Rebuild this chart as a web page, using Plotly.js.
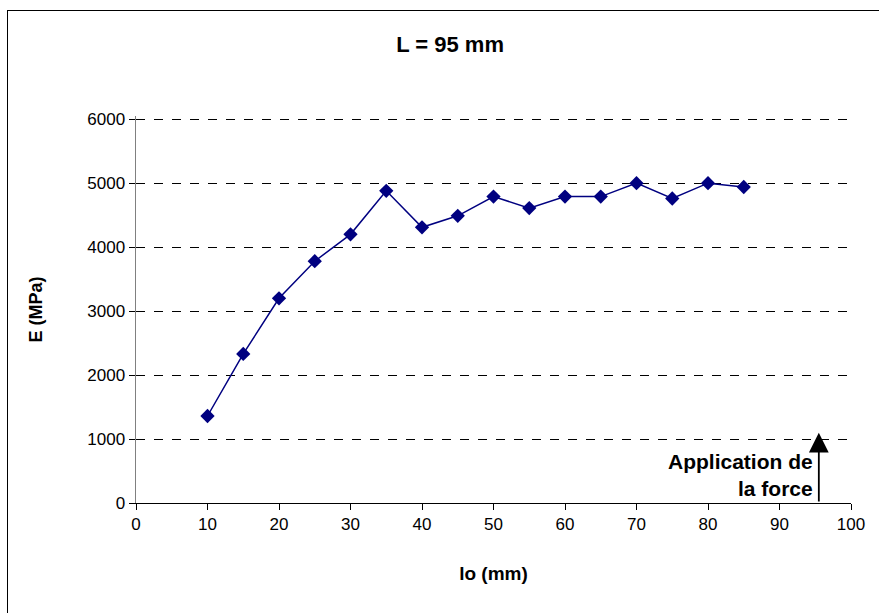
<!DOCTYPE html>
<html>
<head>
<meta charset="utf-8">
<script src="https://cdn.plot.ly/plotly-3.0.1.min.js"></script>
<style>
html,body{margin:0;padding:0;background:#fff;}
#wrap{position:relative;width:879px;height:613px;overflow:hidden;}
#chart{width:879px;height:613px;}
#frame{position:absolute;left:7px;top:10px;width:900px;height:700px;border:1.5px solid #000;pointer-events:none;}
</style>
</head>
<body>
<div id="wrap"><div id="chart"></div><div id="frame"></div></div>
<script>
var lo = [10, 15, 20, 25, 30, 35, 40, 45, 50, 55, 60, 65, 70, 75, 80, 85];
var E = [1360, 2330, 3200, 3780, 4200, 4880, 4310, 4490, 4790, 4610, 4790, 4790, 5000, 4760, 5000, 4940];
var xTicks = [0, 10, 20, 30, 40, 50, 60, 70, 80, 90, 100];
var yTicks = [0, 1000, 2000, 3000, 4000, 5000, 6000];

var trace = {
  x: lo, y: E, mode: 'lines+markers', type: 'scatter',
  line: {color: '#000080', width: 1.5},
  marker: {symbol: 'diamond', size: 11, color: '#000080'},
  hoverinfo: 'none'
};

var FONT = 'Liberation Sans, Arial, sans-serif';

var layout = {
  width: 879, height: 613,
  margin: {l: 136, r: 28, t: 116, b: 110},
  paper_bgcolor: '#fff', plot_bgcolor: '#fff',
  showlegend: false,
  font: {family: FONT, color: '#000', size: 17},
  title: {text: '<b>L = 95 mm</b>', x: 0.512, xanchor: 'center', y: 0.928, yanchor: 'middle',
          font: {size: 22, family: FONT, color: '#000'}},
  xaxis: {
    range: [0, 100], tickvals: xTicks, ticktext: xTicks.map(String),
    showgrid: false, zeroline: false, showline: true, linecolor: '#000', linewidth: 1,
    ticks: 'outside', ticklen: 6, tickcolor: '#000', tickfont: {size: 17},
    title: {text: '<b>lo (mm)</b>', font: {size: 19}, standoff: 33}
  },
  yaxis: {
    range: [0, 6050], tickvals: yTicks, ticktext: yTicks.map(String),
    showgrid: true, gridcolor: '#000', gridwidth: 1, griddash: 'dash',
    zeroline: false, showline: true, linecolor: '#808080', linewidth: 1.5,
    ticks: 'outside', ticklen: 6, tickcolor: '#000', tickfont: {size: 17},
    title: {text: '<b>E (MPa)</b>', font: {size: 18}, standoff: 40}
  },
  annotations: [
    {x: 95.5, y: 1100, ax: 95.5, ay: 0, xref: 'x', yref: 'y', axref: 'x', ayref: 'y',
     text: '', showarrow: true, arrowhead: 2, arrowsize: 2.2, arrowwidth: 1.8, arrowcolor: '#000'},
    {x: 94.9, y: 10, xref: 'x', yref: 'y', xanchor: 'right', yanchor: 'bottom', align: 'right',
     text: '<b>Application de<br>la force</b>', showarrow: false,
     font: {size: 21, family: FONT, color: '#000'}}
  ]
};

Plotly.newPlot('chart', [trace], layout, {displayModeBar: false, staticPlot: true});
</script>
</body>
</html>
